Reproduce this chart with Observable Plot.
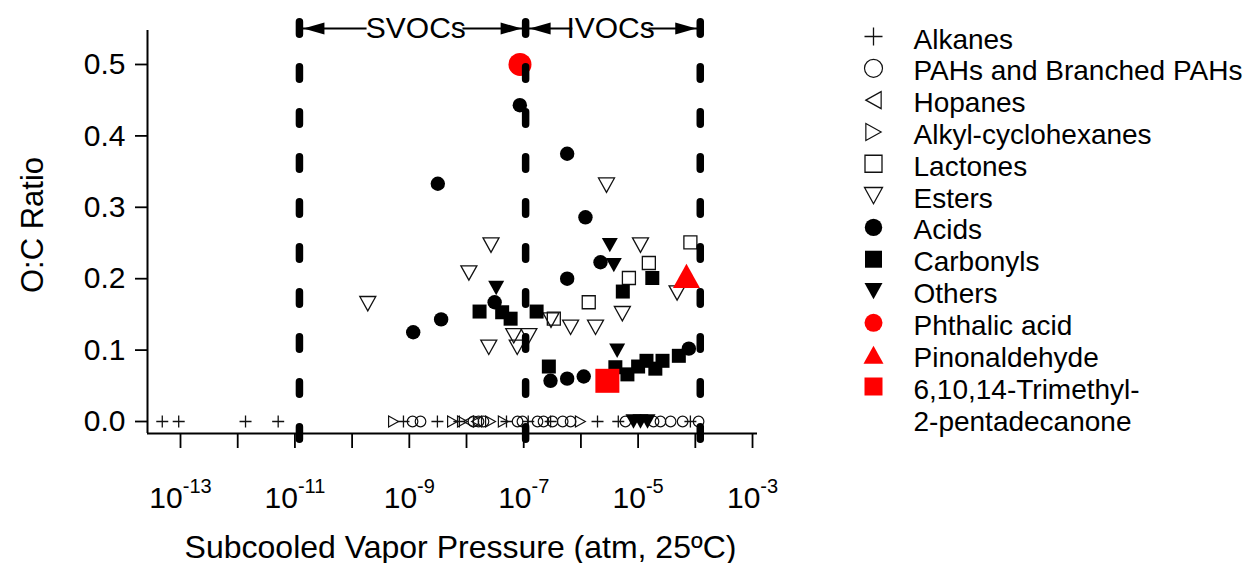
<!DOCTYPE html>
<html><head><meta charset="utf-8">
<script src="https://cdn.jsdelivr.net/npm/d3@7"></script>
<script src="https://cdn.jsdelivr.net/npm/@observablehq/plot@0.6"></script>
<style>
body{margin:0;background:#fff;}
#wrap{position:relative;width:1249px;height:563px;background:#fff;font-family:"Liberation Sans",Arial,sans-serif;}
#chart{position:absolute;left:0;top:0;}
#legend{position:absolute;left:850px;top:0;}
</style></head><body><div id="wrap"><div id="chart"></div><div id="legend"></div></div>
<script>
// ---- data: [subcooled vapor pressure (atm), O:C ratio] ----
const alkanes = [[4.8e-14,0],[9.3e-14,0],[1.37e-12,0],[5.1e-12,0],[7.9e-10,0],[3.1e-9,0],[7.5e-9,0],[5.0e-8,0],[1.2e-7,0],[2.95e-7,0],[1.95e-6,0],[4.5e-6,0],[8.2e-5,0]];
const pahs = [[1.14e-9,0],[1.57e-9,0],[1.32e-8,0],[1.62e-8,0],[1.98e-8,0],[7.8e-8,0],[9.5e-8,0],[1.74e-7,0],[2.22e-7,0],[3.18e-7,0],[4.8e-7,0],[6.6e-7,0],[6.0e-6,0],[1.86e-5,0],[2.46e-5,0],[3.7e-5,0],[6.0e-5,0],[1.14e-4,0]];
const hopanes = [[1.08e-8,0],[1.5e-8,0]];
const alkylCyclohexanes = [[5.3e-10,0],[5.7e-9,0],[8.5e-9,0],[2.63e-8,0],[4.4e-8,0],[9.8e-7,0]];
const lactones = [[3.36e-7,0.144],[1.37e-6,0.167],[6.9e-6,0.201],[1.54e-5,0.222],[8.2e-5,0.251]];
const esters = [[1.88e-10,0.165],[1.1e-8,0.208],[2.68e-8,0.247],[2.45e-8,0.104],[6.7e-8,0.120],[7.7e-8,0.104],[1.23e-7,0.120],[3.0e-7,0.142],[6.6e-7,0.132],[1.8e-6,0.132],[2.8e-6,0.331],[1.1e-5,0.247],[5.3e-6,0.151],[4.8e-5,0.180]];
const acids = [[1.17e-9,0.125],[3.6e-9,0.143],[3.15e-9,0.333],[3.1e-8,0.167],[8.55e-8,0.443],[5.75e-7,0.375],[1.2e-6,0.286],[2.2e-6,0.223],[5.75e-7,0.200],[2.94e-7,0.057],[5.75e-7,0.060],[1.12e-6,0.063],[7.7e-5,0.102]];
const carbonyls = [[1.69e-8,0.154],[4.2e-8,0.153],[5.9e-8,0.144],[1.68e-7,0.154],[2.75e-7,0.077],[5.4e-6,0.182],[1.77e-5,0.201],[4.0e-6,0.076],[6.5e-6,0.066],[1.0e-5,0.077],[1.4e-5,0.085],[2.0e-5,0.074],[2.67e-5,0.085],[5.15e-5,0.092]];
const others = [[3.3e-8,0.187],[3.2e-6,0.247],[3.76e-6,0.219],[4.3e-6,0.099],[8.3e-6,0],[1.1e-5,0],[1.46e-5,0]];
const phthalicAcid = [[8.6e-8,0.5]];
const pinonaldehyde = [[7.0e-5,0.204]];
const trimethylPentadecanone = [[2.9e-6,0.057]];

// axes
const xDomain = [10 ** -13.577, 10 ** -2.913];
const yDomain = [-0.0168, 0.5476];
const xTicks = [1e-13,1e-12,1e-11,1e-10,1e-9,1e-8,1e-7,1e-6,1e-5,1e-4,1e-3];
const yTicks = [0, 0.1, 0.2, 0.3, 0.4, 0.5];

// volatility regions
const regionNames = ["SVOCs", "IVOCs"];
const regionLabelP = [1.3e-9, 3.3e-6];
const regionBounds = [1.2e-11, 1.08e-7, 1.22e-4];
const regionTextEdges = [[1.79e-10, 8.5e-9], [7.1e-7, 1.52e-5]];
const annY = 0.5504;
const boundTop = 0.5592, boundBottom = -0.0266;

// ---- symbols ----
const sym = (f) => ({draw(c, size){ const r = Math.sqrt(size / Math.PI); f(c, r); }});
const K = 0.9;
const plusSym = sym((c,r)=>{c.moveTo(-r,0);c.lineTo(r,0);c.moveTo(0,-r);c.lineTo(0,r);});
const squareSym = sym((c,r)=>{c.moveTo(-r,-r);c.lineTo(r,-r);c.lineTo(r,r);c.lineTo(-r,r);c.closePath();});
const triDown = sym((c,r)=>{const h=r*K;c.moveTo(-r,-h);c.lineTo(r,-h);c.lineTo(0,h);c.closePath();});
const triUp = sym((c,r)=>{const h=r*K;c.moveTo(-r,h);c.lineTo(r,h);c.lineTo(0,-h);c.closePath();});
const triLeft = sym((c,r)=>{const h=r*K;c.moveTo(-h,0);c.lineTo(h,-r);c.lineTo(h,r);c.closePath();});
const triRight = sym((c,r)=>{const h=r*K;c.moveTo(h,0);c.lineTo(-h,-r);c.lineTo(-h,r);c.closePath();});
const arrowL = {draw(c){c.moveTo(4,0);c.lineTo(25,-6);c.lineTo(25,6);c.closePath();}};
const arrowR = {draw(c){c.moveTo(-4,0);c.lineTo(-25,-6);c.lineTo(-25,6);c.closePath();}};

const RED = "#ff0000", INK = "#111";
const series = [
  {name:"Alkanes", data:alkanes, symbol:plusSym, fill:"none", stroke:INK, sw:1.3, r:6, lr:9},
  {name:"PAHs and Branched PAHs", data:pahs, symbol:"circle", fill:"none", stroke:INK, sw:1.2, r:5.3, lr:9},
  {name:"Hopanes", data:hopanes, symbol:triLeft, fill:"none", stroke:INK, sw:1.2, r:5.5, lr:8.5},
  {name:"Alkyl-cyclohexanes", data:alkylCyclohexanes, symbol:triRight, fill:"none", stroke:INK, sw:1.2, r:5.5, lr:8.5},
  {name:"Lactones", data:lactones, symbol:squareSym, fill:"none", stroke:INK, sw:1.3, r:6.5, lr:8.5},
  {name:"Esters", data:esters, symbol:triDown, fill:"none", stroke:INK, sw:1.3, r:8, lr:9},
  {name:"Acids", data:acids, symbol:"circle", fill:"#000", stroke:"none", sw:0, r:7.2, lr:8.7},
  {name:"Carbonyls", data:carbonyls, symbol:squareSym, fill:"#000", stroke:"none", sw:0, r:7, lr:8.5},
  {name:"Others", data:others, symbol:triDown, fill:"#000", stroke:"none", sw:0, r:8, lr:9},
  {name:"Phthalic acid", data:phthalicAcid, symbol:"circle", fill:RED, stroke:"none", sw:0, r:11.5, lr:9},
  {name:"Pinonaldehyde", data:pinonaldehyde, symbol:triUp, fill:RED, stroke:"none", sw:0, r:13.5, lr:10},
  {name:"6,10,14-Trimethyl-\n2-pentadecanone", data:trimethylPentadecanone, symbol:squareSym, fill:RED, stroke:"none", sw:0, r:12, lr:9}
];

const FONT = "'Liberation Sans', Arial, sans-serif";

const chart = Plot.plot({
  width: 800, height: 563,
  marginLeft: 147, marginRight: 43, marginTop: 30, marginBottom: 130,
  style: {fontFamily: FONT, background: "transparent", overflow: "visible", color: "#000"},
  x: {type: "log", domain: xDomain},
  y: {domain: yDomain},
  marks: [
    Plot.ruleX([xDomain[0]], {stroke: "#000", strokeWidth: 2}),
    Plot.ruleY([yDomain[0]], {stroke: "#000", strokeWidth: 2}),
    Plot.axisX({ticks: xTicks, tickSize: 15, tickPadding: 38, strokeWidth: 1.8, fontSize: 30, label: null,
      tickFormat: d => { const e = Math.round(Math.log10(d)); return Math.abs(e) % 2 === 1 ? "10^" + e : ""; }}),
    Plot.axisY({ticks: yTicks, tickSize: 12, tickPadding: 10, strokeWidth: 1.8, fontSize: 30, label: null,
      tickFormat: d3.format(".1f")}),
    Plot.text(["Subcooled Vapor Pressure (atm, 25ºC)"], {frameAnchor: "bottom", textAnchor: "middle", lineAnchor: "middle",
      dx: 8, dy: 114, fontSize: 32, text: d => d}),
    Plot.text(["O:C Ratio"], {frameAnchor: "left", textAnchor: "middle", lineAnchor: "middle", rotate: -90,
      dx: -114, dy: -7, fontSize: 31, text: d => d}),
    ...series.map(s => Plot.dot(s.data, {x: d => d[0], y: d => d[1], symbol: s.symbol, r: s.r,
      fill: s.fill, stroke: s.stroke, strokeWidth: s.sw})),
    // region annotation
    Plot.link(regionBounds.slice(0, 2).map((b, i) => [b, regionTextEdges[i][0]])
      .concat(regionBounds.slice(1).map((b, i) => [regionTextEdges[i][1], b])),
      {x1: d => d[0], x2: d => d[1], y1: annY, y2: annY, stroke: "#000", strokeWidth: 2}),
    Plot.dot(regionBounds.slice(0, 2), {x: d => d, y: annY, symbol: arrowL, r: 1, fill: "#000"}),
    Plot.dot(regionBounds.slice(1), {x: d => d, y: annY, symbol: arrowR, r: 1, fill: "#000"}),
    Plot.text(regionNames, {x: (d, i) => regionLabelP[i], y: annY, text: d => d, fontSize: 30}),
    Plot.ruleX(regionBounds, {x: d => d, y1: boundTop, y2: boundBottom, stroke: "#000", strokeWidth: 7.5,
      strokeDasharray: "12.5,32.5", strokeLinecap: "round"})
  ]
});

// superscript exponents on x tick labels
chart.querySelectorAll('g[aria-label="x-axis tick label"] text').forEach(el => {
  const t = el.textContent;
  if (t.includes("^")) {
    const [base, exp] = t.split("^");
    el.textContent = base;
    const ts = document.createElementNS("http://www.w3.org/2000/svg", "tspan");
    ts.setAttribute("dy", "-15");
    ts.setAttribute("font-size", "20");
    ts.textContent = exp;
    el.appendChild(ts);
  }
});
document.getElementById("chart").appendChild(chart);

const legend = Plot.plot({
  width: 399, height: 440, margin: 0,
  style: {fontFamily: FONT, background: "transparent", overflow: "visible", color: "#000"},
  y: {type: "point", domain: series.map(s => s.name), range: [36, 386], padding: 0, round: false, axis: null},
  marks: [
    ...series.map(s => Plot.dot([s.name], {y: d => d, frameAnchor: "left", dx: 23, symbol: s.symbol, r: s.lr,
      fill: s.fill, stroke: s.stroke, strokeWidth: s.sw})),
    Plot.text(series.map(s => s.name), {y: d => d, text: d => d, frameAnchor: "left", dx: 63, textAnchor: "start",
      lineAnchor: "top", dy: -10.8, fontSize: 28, lineHeight: 1.15})
  ]
});
document.getElementById("legend").appendChild(legend);
</script></body></html>
